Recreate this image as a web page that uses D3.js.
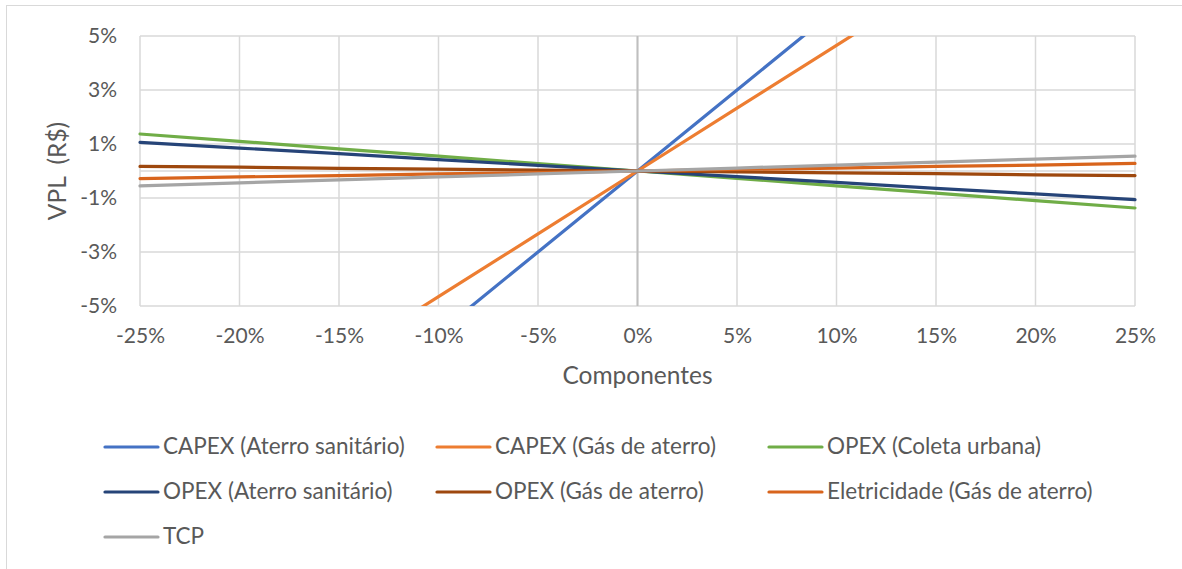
<!DOCTYPE html>
<html>
<head>
<meta charset="utf-8">
<script src="https://cdn.jsdelivr.net/npm/d3@7/dist/d3.min.js"></script>
<style>
  html, body { margin: 0; padding: 0; background: #fff; }
  svg { display: block; }
  text { font-family: Lato, "Open Sans", sans-serif; fill: #595959; }
</style>
</head>
<body>
<svg id="chart" width="1182" height="569"></svg>
<script>
// Variation applied to each component (%)
const variations = [-25, -20, -15, -10, -5, 0, 5, 10, 15, 20, 25];

// Resulting change in VPL (%) for each component
const capexAterro   = [-15.0, -12.0, -9.0, -6.0, -3.0, 0, 3.0, 6.0, 9.0, 12.0, 15.0];
const capexGas      = [-11.6, -9.3, -7.0, -4.65, -2.33, 0, 2.33, 4.65, 7.0, 9.3, 11.6];
const opexColeta    = [1.37, 1.10, 0.82, 0.55, 0.27, 0, -0.27, -0.55, -0.82, -1.10, -1.37];
const opexAterro    = [1.06, 0.85, 0.64, 0.42, 0.21, 0, -0.21, -0.42, -0.64, -0.85, -1.06];
const opexGas       = [0.17, 0.14, 0.10, 0.07, 0.03, 0, -0.03, -0.07, -0.10, -0.14, -0.17];
const eletricidade  = [-0.28, -0.22, -0.17, -0.11, -0.06, 0, 0.06, 0.11, 0.17, 0.22, 0.28];
const tcp           = [-0.55, -0.44, -0.33, -0.22, -0.11, 0, 0.11, 0.22, 0.33, 0.44, 0.55];

const seriesNames = [
  "CAPEX (Aterro sanitário)", "CAPEX (Gás de aterro)", "OPEX (Coleta urbana)",
  "OPEX (Aterro sanitário)", "OPEX (Gás de aterro)", "Eletricidade (Gás de aterro)", "TCP"
];
const seriesValues = [capexAterro, capexGas, opexColeta, opexAterro, opexGas, eletricidade, tcp];
const seriesColors = ["#4472C4", "#ED7D31", "#70AD47", "#264478", "#9E480E", "#D8641C", "#A5A5A5"];

const xTicks = [-25, -20, -15, -10, -5, 0, 5, 10, 15, 20, 25];
const yTicks = [-5, -3, -1, 1, 3, 5];

const svg = d3.select("#chart");

// outer chart frame
svg.append("rect")
  .attr("x", 6.5).attr("y", 5.5)
  .attr("width", 1200).attr("height", 600)
  .attr("fill", "none").attr("stroke", "#d9d9d9").attr("stroke-width", 1);

const plot = { left: 140, right: 1135, top: 36, bottom: 306 };

const x = d3.scaleLinear().domain([-25, 25]).range([plot.left, plot.right]);
const y = d3.scaleLinear().domain([-5, 5]).range([plot.bottom, plot.top]);

// gridlines
const grid = svg.append("g");
grid.selectAll("line.v").data(xTicks).join("line")
  .attr("x1", d => x(d)).attr("x2", d => x(d))
  .attr("y1", plot.top).attr("y2", plot.bottom)
  .attr("stroke", "#d9d9d9").attr("stroke-width", 1.5);
grid.selectAll("line.h").data(yTicks).join("line")
  .attr("x1", plot.left).attr("x2", plot.right)
  .attr("y1", d => y(d)).attr("y2", d => y(d))
  .attr("stroke", "#d9d9d9").attr("stroke-width", 1.5);

// axis lines through the origin
svg.append("line")
  .attr("x1", plot.left).attr("x2", plot.right)
  .attr("y1", y(0)).attr("y2", y(0))
  .attr("stroke", "#d9d9d9").attr("stroke-width", 1.5);
svg.append("line")
  .attr("x1", x(0)).attr("x2", x(0))
  .attr("y1", plot.top).attr("y2", plot.bottom)
  .attr("stroke", "#bfbfbf").attr("stroke-width", 2);

// tick labels
const pct = d => d + "%";
const xAxis = d3.axisBottom(x).tickValues(xTicks).tickFormat(pct).tickSize(0).tickPadding(0);
const gx = svg.append("g").attr("transform", `translate(0,${plot.bottom + 22})`).call(xAxis);
gx.select(".domain").remove();
gx.selectAll("text").attr("font-size", 21).attr("font-family", null).attr("fill", "#595959").attr("dy", "0.71em");

const yAxis = d3.axisLeft(y).tickValues(yTicks).tickFormat(pct).tickSize(0).tickPadding(0);
const gy = svg.append("g").attr("transform", `translate(${plot.left - 23},0)`).call(yAxis);
gy.select(".domain").remove();
gy.selectAll("text").attr("font-size", 21).attr("font-family", null).attr("fill", "#595959");

// axis titles
svg.append("text")
  .attr("x", x(0)).attr("y", 378)
  .attr("text-anchor", "middle").attr("dominant-baseline", "middle")
  .attr("font-size", 24.5).text("Componentes");
svg.append("text")
  .attr("transform", `translate(60,${y(0)}) rotate(-90)`)
  .attr("text-anchor", "middle").attr("dominant-baseline", "middle")
  .attr("font-size", 24.5).attr("xml:space", "preserve").text("VPL  (R$)");

// series lines, clipped to the plot area
svg.append("clipPath").attr("id", "plot-clip")
  .append("rect")
  .attr("x", plot.left - 2).attr("y", plot.top)
  .attr("width", plot.right - plot.left + 4).attr("height", plot.bottom - plot.top);

const line = d3.line().x(d => x(d[0])).y(d => y(d[1]));
const lines = svg.append("g").attr("clip-path", "url(#plot-clip)");
seriesValues.forEach((vals, i) => {
  lines.append("path")
    .datum(variations.map((v, j) => [v, vals[j]]))
    .attr("d", line)
    .attr("fill", "none")
    .attr("stroke", seriesColors[i])
    .attr("stroke-width", 3.2)
    .attr("stroke-linecap", "round");
});

// legend
const legendCols = [105, 437, 769];
const legendRows = [447, 492, 537];
const legend = svg.append("g");
seriesNames.forEach((name, i) => {
  const cx = legendCols[i % 3];
  const cy = legendRows[Math.floor(i / 3)];
  legend.append("line")
    .attr("x1", cx).attr("x2", cx + 53)
    .attr("y1", cy).attr("y2", cy)
    .attr("stroke", seriesColors[i]).attr("stroke-width", 3.2)
    .attr("stroke-linecap", "round");
  legend.append("text")
    .attr("x", cx + 58).attr("y", cy + 1)
    .attr("dominant-baseline", "middle")
    .attr("font-size", 22.5).text(name);
});
</script>
</body>
</html>
